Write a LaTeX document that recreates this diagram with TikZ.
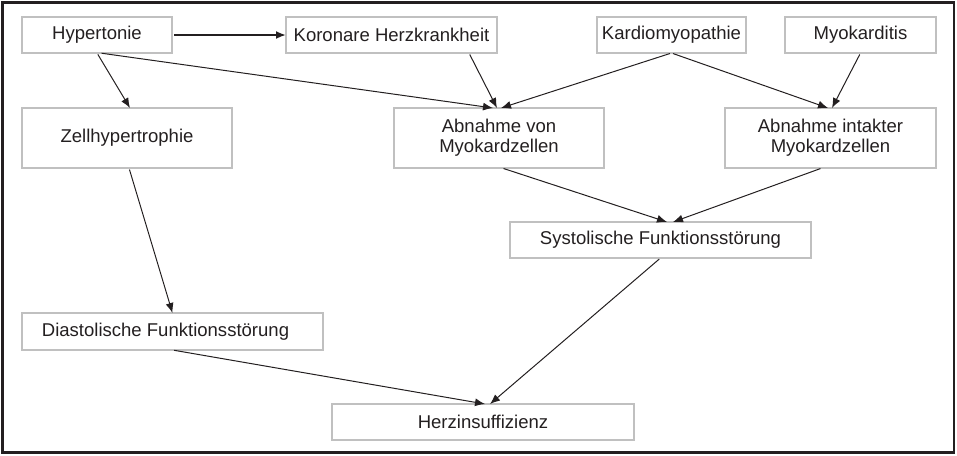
\documentclass[tikz,border=0pt]{standalone}
\usepackage{fontspec}
\setmainfont{Liberation Sans}
\usetikzlibrary{arrows.meta,calc}
\definecolor{boxgray}{RGB}{192,192,192}
\definecolor{txt}{RGB}{35,31,32}
\begin{document}
\begin{tikzpicture}[x=0.75pt,y=-0.75pt,
  box/.style={draw=boxgray,line width=1.5pt,rectangle,inner sep=0pt,outer sep=0pt,
    align=center,text=txt,font=\fontsize{13.9pt}{15pt}\selectfont},
  arr/.style={-{Latex[length=7.5pt,width=6pt]},line width=0.75pt,shorten <=1.2pt,draw=txt},
  thickarr/.style={-{Latex[length=7.5pt,width=6pt]},line width=1.4pt,shorten <=1.5pt,draw=txt}]
\useasboundingbox (0,0) rectangle (957,455);
\draw[line width=1.6pt,draw=txt] (2.5,2.5) rectangle (954,452.5);

\node[box,minimum width=112.5pt,minimum height=27pt] (hyp) at (97,35) {Hypertonie};
\node[box,minimum width=158.25pt,minimum height=27pt] (kor) at (391.5,35) {Koronare Herzkrankheit};
\node[box,minimum width=111.75pt,minimum height=27pt] (kar) at (671.5,35) {Kardiomyopathie};
\node[box,minimum width=113.25pt,minimum height=27pt] (myo) at (860.5,35) {Myokarditis};
\node[box,minimum width=157.5pt,minimum height=45pt] (zell) at (127,138) {Zellhypertrophie};
\node[box,minimum width=157.5pt,minimum height=45pt] (abv) at (499,138) {Abnahme von\\Myokardzellen};
\node[box,minimum width=158.25pt,minimum height=45pt] (abi) at (830.5,138) {Abnahme intakter\\Myokardzellen};
\node[box,minimum width=225.75pt,minimum height=27pt] (sys) at (660.5,240) {Systolische Funktionsstörung};
\node[box,minimum width=225.75pt,minimum height=27.75pt] (dia) at (172.5,331.5) {Diastolische Funktionsstörung\hspace*{10.5pt}};
\node[box,minimum width=226.5pt,minimum height=27pt] (herz) at (483,422) {Herzinsuffizienz};

\draw[thickarr] (hyp.east) -- (kor.west);
\draw[arr] (hyp.south) -- ($(zell.north)+(3,0)$);
\draw[arr] ($(hyp.south)+(3,0)$) -- ($(abv.north)+(-6,0)$);
\draw[arr] ($(kor.south)+(77.5,0)$) -- ($(abv.north)+(-2,0)$);
\draw[arr] (kar.south) -- ($(abv.north)+(2,0)$);
\draw[arr] (kar.south) -- ($(abi.north)+(-2.5,0)$);
\draw[arr] (myo.south) -- ($(abi.north)+(1.5,0)$);
\draw[arr] ($(zell.south)+(2,0)$) -- (dia.north);
\draw[arr] ($(abv.south)+(3,0)$) -- ($(sys.north)+(6.5,0)$);
\draw[arr] ($(abi.south)+(-8.5,0)$) -- ($(sys.north)+(12.5,0)$);
\draw[arr] (sys.south) -- ($(herz.north)+(7,0)$);
\draw[arr] (dia.south) -- ($(herz.north)+(2,0)$);
\end{tikzpicture}
\end{document}
